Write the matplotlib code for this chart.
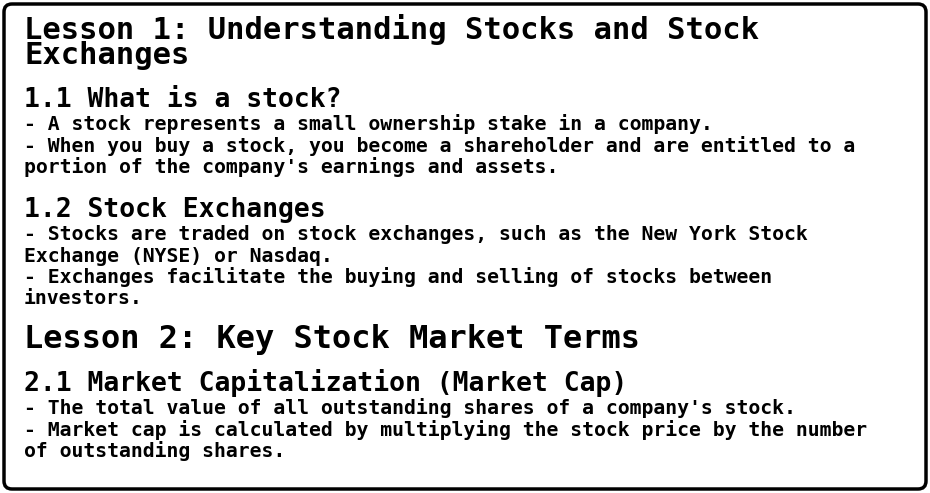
import matplotlib
matplotlib.use("Agg")
import matplotlib.pyplot as plt
from matplotlib.patches import FancyBboxPatch

W, H = 930, 493
title_lines = ["Lesson 1: Understanding Stocks and Stock", "Exchanges"]
h11 = "1.1 What is a stock?"
body11 = ["- A stock represents a small ownership stake in a company.",
          "- When you buy a stock, you become a shareholder and are entitled to a",
          "portion of the company's earnings and assets."]
h12 = "1.2 Stock Exchanges"
body12 = ["- Stocks are traded on stock exchanges, such as the New York Stock",
          "Exchange (NYSE) or Nasdaq.",
          "- Exchanges facilitate the buying and selling of stocks between",
          "investors."]
title2 = "Lesson 2: Key Stock Market Terms"
h21 = "2.1 Market Capitalization (Market Cap)"
body21 = ["- The total value of all outstanding shares of a company's stock.",
          "- Market cap is calculated by multiplying the stock price by the number",
          "of outstanding shares."]

fig = plt.figure(figsize=(W/100, H/100), dpi=100)
fig.patch.set_facecolor("white")
ax = fig.add_axes([0, 0, 1, 1])
ax.set_xlim(0, W); ax.set_ylim(H, 0); ax.axis("off")
ax.add_patch(FancyBboxPatch((4, 4), W-8, H-8, boxstyle="round,pad=0,rounding_size=8",
                            fc="white", ec="black", lw=2.5))
FONT = "DejaVu Sans Mono"
def put(y, s, size, bold=False):
    ax.text(24, y, s, fontsize=size, family=FONT, va="baseline", ha="left",
            fontweight="bold" if bold else "normal", color="black")

put(39, title_lines[0], 22, True)
put(64, title_lines[1], 22, True)
put(107, h11, 19, True)
for i, s in enumerate(body11):
    put(130 + 21.5*i, s, 14.2, True)
put(217, h12, 19, True)
for i, s in enumerate(body12):
    put(240 + 21.5*i, s, 14.2, True)
put(348, title2, 23, True)
put(391, h21, 19, True)
for i, s in enumerate(body21):
    put(414 + 21.5*i, s, 14.2, True)

fig.savefig("out.png", dpi=100)
